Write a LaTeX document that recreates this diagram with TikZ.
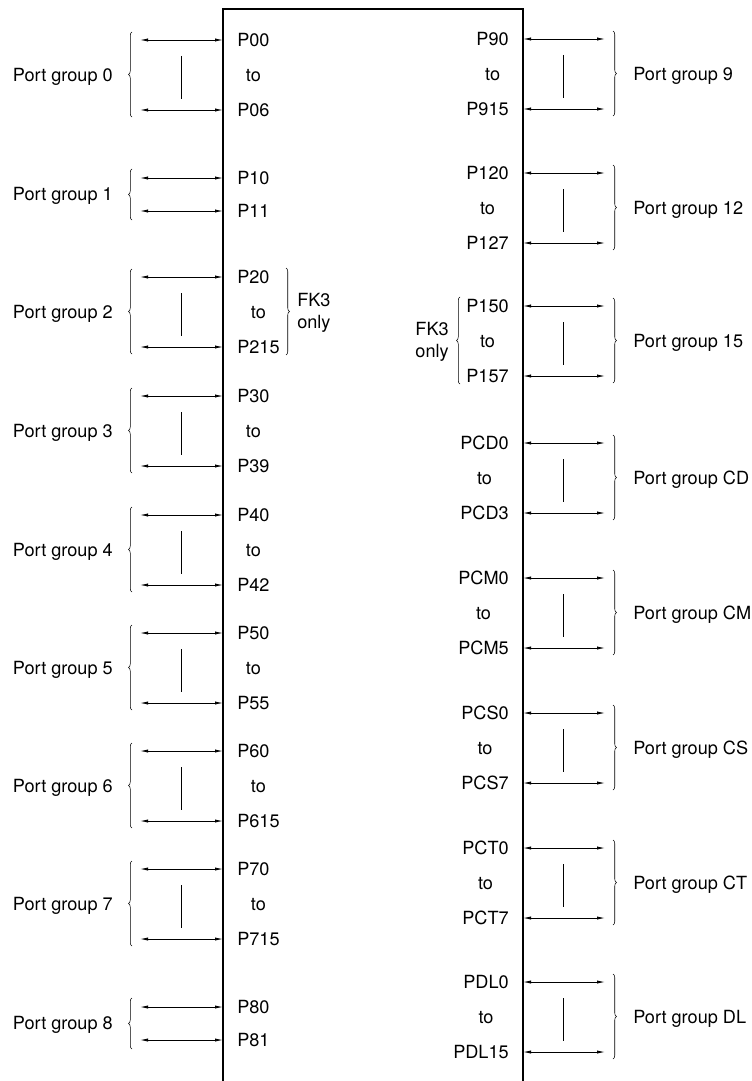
\documentclass[tikz,border=0pt]{standalone}
\usepackage{fontspec}
\setmainfont{TeX Gyre Heros}
\usetikzlibrary{arrows.meta, decorations.pathreplacing}

\begin{document}
\begin{tikzpicture}[x=0.75pt, y=-0.75pt, font=\fontsize{13.6}{16}\selectfont,
	chip/.style={line width=1.4pt},
	sig/.style={{Latex[length=6pt,width=2.4pt]}-{Latex[length=6pt,width=2.4pt]}, line width=0.6pt},
	bar/.style={line width=0.5pt},
	grpbrace/.style={decorate, decoration={brace, amplitude=2.6pt}, line width=0.4pt},
	lbl/.style={inner xsep=10.5pt, inner ysep=0pt, text height=9.7pt, text depth=0pt},
	lpin/.style={lbl, anchor=west},
	rpin/.style={lbl, anchor=east},
	grp/.style={inner sep=0pt, text height=9.7pt, text depth=0pt},
	fk/.style={inner sep=0pt, align=left}]

	\useasboundingbox (0,0) rectangle (751,1081);

	% chip body, open at the bottom
	\draw[chip] (223,1081) -- (223,9) -- (523,9) -- (523,1081);

	% left side, groups with three rows
	\foreach \n/\t/\a/\b in {0/40/P00/P06, 2/277/P20/P215, 3/396/P30/P39, 4/515/P40/P42,
			5/633/P50/P55, 6/751/P60/P615, 7/869/P70/P715}{
		\node[lpin] (top\n) at (223,\t) {\a};
		\node[lpin] (bot\n) at (223,\t+70) {\b};
		\coordinate (mid\n) at (181,\t+35);
		\node[grp] (to\n) at (bot\n.center |- mid\n) {to};
		\coordinate (ta\n) at (140,\t);
		\coordinate (ba\n) at (140,\t+70);
		\draw[sig] (ta\n) -- (top\n.west);
		\draw[sig] (ba\n) -- (bot\n.west);
		\draw[bar] (181,\t+16) -- (181,\t+59);
		\draw[grpbrace] (132,\t+77) -- (132,\t-8);
		\node[grp, anchor=east] (name\n) at (113,\t+35) {Port group \n};
	}

	% left side, groups with two rows
	\foreach \n/\t in {1/178, 8/1007}{
		\node[lpin] (top\n) at (223,\t) {P\n0};
		\node[lpin] (bot\n) at (223,\t+33) {P\n1};
		\coordinate (ta\n) at (140,\t);
		\coordinate (ba\n) at (140,\t+33);
		\draw[sig] (ta\n) -- (top\n.west);
		\draw[sig] (ba\n) -- (bot\n.west);
		\draw[grpbrace] (132,\t+42) -- (132,\t-9);
		\node[grp, anchor=east] (name\n) at (113,\t+16.5) {Port group \n};
	}

	% right side
	\foreach \n/\t/\a/\b in {9/39/P90/P915, 12/173/P120/P127, 15/306/P150/P157, CD/443/PCD0/PCD3,
			CM/578/PCM0/PCM5, CS/713/PCS0/PCS7, CT/848/PCT0/PCT7, DL/982/PDL0/PDL15}{
		\node[rpin] (top\n) at (523,\t) {\a};
		\node[rpin] (bot\n) at (523,\t+70) {\b};
		\coordinate (mid\n) at (563,\t+35);
		\node[grp] (to\n) at (top\n.center |- mid\n) {to};
		\coordinate (ta\n) at (605,\t);
		\coordinate (ba\n) at (605,\t+70);
		\draw[sig] (top\n.east) -- (ta\n);
		\draw[sig] (bot\n.east) -- (ba\n);
		\draw[bar] (563,\t+16) -- (563,\t+59);
		\draw[grpbrace] (613,\t-8) -- (613,\t+77);
		\node[grp, anchor=west] (name\n) at (633,\t+35) {Port group \n};
	}

	% FK3 only notes
	\draw[grpbrace] (286,268) -- (286,355);
	\node[fk, anchor=west] (fkleft) at (297,313) {FK3\\only};
	\draw[grpbrace] (460,384) -- (460,297);
	\node[fk, anchor=east] (fkright) at (449,342) {FK3\\only};
\end{tikzpicture}
\end{document}
